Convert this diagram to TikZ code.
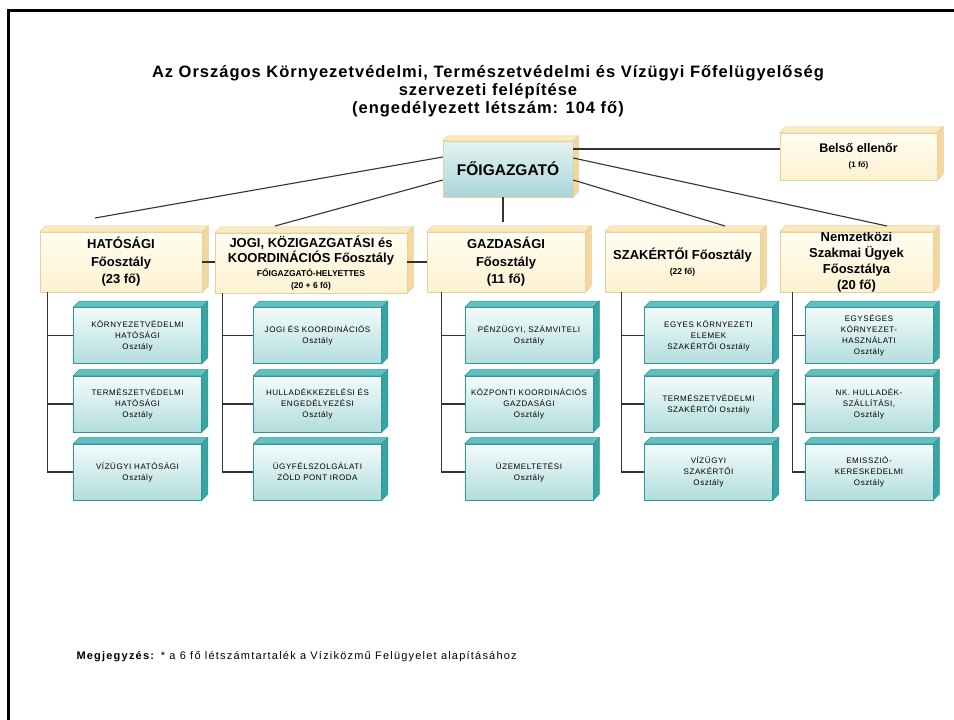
\documentclass[tikz,border=0pt]{standalone}
\usepackage{fontspec}
\setmainfont{Liberation Sans}
\newfontfamily\subfont[LetterSpace=7]{Liberation Sans}
\newfontfamily\notefont[LetterSpace=11]{Liberation Sans}
\newfontfamily\titlefont[LetterSpace=6]{Liberation Sans}
\definecolor{creamtop}{HTML}{FFFDF2}
\definecolor{creambot}{HTML}{FDF1D0}
\definecolor{creamedge}{HTML}{E8D09A}
\definecolor{creambev}{HTML}{FBE9C0}
\definecolor{creamside}{HTML}{F2D79E}
\definecolor{tealtop}{HTML}{F4FBFB}
\definecolor{tealbot}{HTML}{B2DDDD}
\definecolor{tealedge}{HTML}{2E9898}
\definecolor{tealbev}{HTML}{62C0C0}
\definecolor{tealside}{HTML}{38A4A4}
\definecolor{chieftop}{HTML}{E4F3F1}
\definecolor{chiefbot}{HTML}{A9D5DA}
\definecolor{linecol}{HTML}{333333}
\newcommand{\boxbevel}[5]{%
  \filldraw[fill=#3, draw=#5, line width=0.5pt] (#1.north west) -- ([shift={(#2,-#2)}]#1.north west) -- ([shift={(#2,-#2)}]#1.north east) -- (#1.north east) -- cycle;
  \filldraw[fill=#4, draw=#5, line width=0.5pt] (#1.north east) -- ([shift={(#2,-#2)}]#1.north east) -- ([shift={(#2,-#2)}]#1.south east) -- (#1.south east) -- cycle;}
\tikzset{
  creambox/.style={draw=creamedge, line width=0.5pt, top color=creamtop, bottom color=creambot, minimum height=60pt, inner sep=0pt, align=center, font=\bfseries\fontsize{13}{17.5}\selectfont},
  chiefbox/.style={draw=creamedge, line width=0.5pt, top color=chieftop, bottom color=chiefbot, minimum width=130pt, minimum height=56pt, inner sep=0pt, align=center, font=\bfseries\fontsize{15.5}{18}\selectfont},
  tealbox/.style={draw=tealedge, line width=0.6pt, top color=tealtop, bottom color=tealbot, minimum width=128pt, minimum height=56pt, inner sep=0pt, align=center, font=\subfont\fontsize{8}{11}\selectfont},
  conn/.style={draw=linecol, line width=1.1pt},
  colline/.style={draw=linecol, line width=1.3pt},
}
\begin{document}
\begin{tikzpicture}[x=1pt, y=-1pt]
\useasboundingbox (0,0) rectangle (954,720);
\fill[white] (0,0) rectangle (954,720);
\draw[line width=3pt] (8,720) -- (8,10) -- (954,10);

\node[align=center, font=\titlefont\bfseries\fontsize{16.5}{18}\selectfont] (title) at (488,91)
  {Az Országos Környezetvédelmi, Természetvédelmi és Vízügyi Főfelügyelőség\\szervezeti felépítése\\(engedélyezett létszám: 104 fő)};

% top level
\node[chiefbox] (fo) at (508,169) {FŐIGAZGATÓ};
\boxbevel{fo}{5}{creambev}{creamside}{creamedge}
\node[creambox, minimum width=157pt, minimum height=47pt] (bel) at (858.5,156.5)
  {{\fontsize{12.5}{14}\selectfont Belső ellenőr}\\[-2pt]{\fontsize{8}{10}\selectfont (1 fő)}};
\boxbevel{bel}{6}{creambev}{creamside}{creamedge}

% main departments
\node[creambox, minimum width=162pt] (hat) at (121,262) {HATÓSÁGI\\Főosztály\\(23 fő)};
\node[creambox, minimum width=192pt, font=\bfseries\fontsize{13}{15.5}\selectfont] (jogi) at (311,263)
  {JOGI, KÖZIGAZGATÁSI és\\KOORDINÁCIÓS Főosztály\\[-2pt]{\fontsize{8.5}{13}\selectfont FŐIGAZGATÓ-HELYETTES}\\[-3pt]{\fontsize{8.5}{13}\selectfont (20 + 6 fő)}};
\node[creambox, minimum width=158pt] (gazd) at (506,262) {GAZDASÁGI\\Főosztály\\(11 fő)};
\node[creambox, minimum width=155pt] (szak) at (682.5,262) {SZAKÉRTŐI Főosztály\\[-3pt]{\fontsize{8.5}{12}\selectfont (22 fő)}};
\node[creambox, minimum width=153pt, font=\bfseries\fontsize{13}{16}\selectfont] (nemz) at (856.5,262) {Nemzetközi\\Szakmai Ügyek\\Főosztálya\\(20 fő)};
\foreach \n in {hat,jogi,gazd,szak,nemz} {\boxbevel{\n}{6}{creambev}{creamside}{creamedge}}

% connectors from the director general
\coordinate (hatT) at (95,218);
\coordinate (jogiT) at (275,226);
\coordinate (gazdT) at (503,222);
\coordinate (szakT) at (725,226);
\coordinate (nemzT) at (887,226);
\draw[conn] ([yshift=12pt]fo.west) -- (hatT);
\draw[conn] ([yshift=-11pt]fo.west) -- (jogiT);
\draw[conn] ([xshift=-5pt]fo.south) -- (gazdT);
\draw[conn] ([yshift=-11pt]fo.east) -- (szakT);
\draw[conn] ([yshift=11pt]fo.east) -- (nemzT);
\draw[conn] ([yshift=20pt]fo.east) -- ([yshift=20pt]fo.east -| bel.west);
\draw[conn] (hat.east) -- (jogi.west |- hat.east);
\draw[conn] (jogi.east |- gazd.west) -- (gazd.west);

% sub-departments
\node[tealbox] (s11) at (137.5,335.5) {KÖRNYEZETVÉDELMI\\HATÓSÁGI\\Osztály};
\node[tealbox] (s12) at (137.5,404) {TERMÉSZETVÉDELMI\\HATÓSÁGI\\Osztály};
\node[tealbox] (s13) at (137.5,472) {VÍZÜGYI HATÓSÁGI\\Osztály};
\node[tealbox] (s21) at (317.5,335.5) {JOGI ÉS KOORDINÁCIÓS\\Osztály};
\node[tealbox] (s22) at (317.5,404) {HULLADÉKKEZELÉSI ÉS\\ENGEDÉLYEZÉSI\\Osztály};
\node[tealbox] (s23) at (317.5,472) {ÜGYFÉLSZOLGÁLATI\\ZÖLD PONT IRODA};
\node[tealbox] (s31) at (529,335.5) {PÉNZÜGYI, SZÁMVITELI\\Osztály};
\node[tealbox] (s32) at (529,404) {KÖZPONTI KOORDINÁCIÓS\\GAZDASÁGI\\Osztály};
\node[tealbox] (s33) at (529,472) {ÜZEMELTETÉSI\\Osztály};
\node[tealbox] (s41) at (708.5,335.5) {EGYES KÖRNYEZETI\\ELEMEK\\SZAKÉRTŐI Osztály};
\node[tealbox] (s42) at (708.5,404) {TERMÉSZETVÉDELMI\\SZAKÉRTŐI Osztály};
\node[tealbox] (s43) at (708.5,472) {VÍZÜGYI\\SZAKÉRTŐI\\Osztály};
\node[tealbox] (s51) at (869,335.5) {EGYSÉGES\\KÖRNYEZET-\\HASZNÁLATI\\Osztály};
\node[tealbox] (s52) at (869,404) {NK. HULLADÉK-\\SZÁLLÍTÁSI,\\Osztály};
\node[tealbox] (s53) at (869,472) {EMISSZIÓ-\\KERESKEDELMI\\Osztály};
\foreach \n in {s11,s12,s13,s21,s22,s23,s31,s32,s33,s41,s42,s43,s51,s52,s53} {\boxbevel{\n}{6}{tealbev}{tealside}{tealedge}}

% column lines
\foreach \r in {1,2,3} {
  \draw[colline] ([xshift=8pt]hat.south west) |- (s1\r.west);
  \draw[colline] ([xshift=8pt]jogi.south west) |- (s2\r.west);
  \draw[colline] ([xshift=15pt]gazd.south west) |- (s3\r.west);
  \draw[colline] ([xshift=17pt]szak.south west) |- (s4\r.west);
  \draw[colline] ([xshift=13pt]nemz.south west) |- (s5\r.west);
}

\node[anchor=base west, font=\notefont\fontsize{11}{13}\selectfont] (note) at (73,659)
  {\textbf{Megjegyzés:} * a 6 fő létszámtartalék a Víziközmű Felügyelet alapításához};
\end{tikzpicture}
\end{document}
